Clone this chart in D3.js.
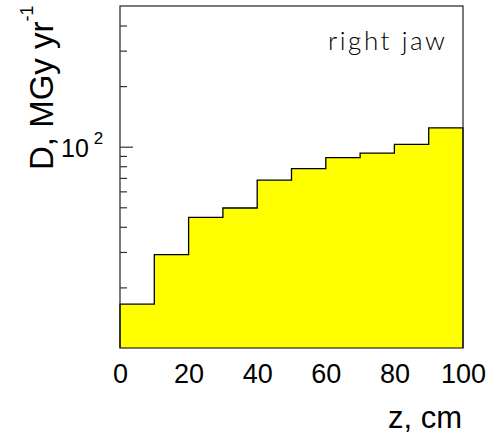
<!DOCTYPE html>
<html>
<head>
<meta charset="utf-8">
<script src="https://cdn.jsdelivr.net/npm/d3@7"></script>
<style>
  body { margin: 0; background: #fff; }
  svg { display: block; font-family: "Liberation Sans", Arial, sans-serif; }
</style>
</head>
<body>
<svg id="chart"></svg>
<script>
// bin edges (z, cm) and dose per bin (MGy/yr)
var binEdges = [0, 10, 20, 30, 40, 50, 60, 70, 80, 90, 100];
var dose = [16.5, 29.1, 44.6, 49.6, 68.3, 77.8, 88.2, 93.0, 102.8, 123.9];
var xTicks = [0, 20, 40, 60, 80, 100];
var yMinorTicks = [20, 30, 40, 50, 60, 70, 80, 90, 200, 300, 400];
var yMajorTicks = [100];

var W = 486, H = 437;
var margin = { top: 6, right: 23, bottom: 89, left: 120 };
var w = W - margin.left - margin.right,
    h = H - margin.top - margin.bottom;

var svg = d3.select('#chart').attr('width', W).attr('height', H);
var g = svg.append('g')
  .attr('transform', 'translate(' + margin.left + ',' + margin.top + ')');

var x = d3.scaleLinear().domain([0, 100]).range([0, w]);
var y = d3.scaleLog().domain([10, 500]).range([h, 0]);

// build the step outline from the bins
var steps = [];
dose.forEach(function (d, i) {
  steps.push([binEdges[i], d]);
  steps.push([binEdges[i + 1], d]);
});

var area = d3.area()
  .x(function (d) { return x(d[0]); })
  .y0(h)
  .y1(function (d) { return y(d[1]); });
g.append('path')
  .datum(steps)
  .attr('d', area)
  .style('fill', '#ffff00');

var line = d3.line()
  .x(function (d) { return x(d[0]); })
  .y(function (d) { return y(d[1]); });
g.append('path')
  .datum([[0, 10]].concat(steps).concat([[100, 10]]))
  .attr('d', line)
  .style('fill', 'none')
  .style('stroke', '#000')
  .style('stroke-width', 1.3);

// frame
g.append('rect')
  .attr('width', w).attr('height', h)
  .style('fill', 'none')
  .style('stroke', '#222')
  .style('stroke-width', 1.2);

// y ticks, pointing into the frame
var yMinor = d3.axisLeft(y).tickValues(yMinorTicks).tickSize(-7).tickFormat('');
var yMajor = d3.axisLeft(y).tickValues(yMajorTicks).tickSize(-13).tickFormat('');
[yMinor, yMajor].forEach(function (ax) {
  var a = g.append('g').call(ax);
  a.select('.domain').remove();
  a.selectAll('line').style('stroke', '#333').style('stroke-width', 1.2);
});

// label for the 10^2 tick
var lab = g.append('text')
  .attr('x', -59).attr('y', y(100) + 10)
  .style('font-size', '25px')
  .style('fill', '#000');
lab.append('tspan').text('10');
lab.append('tspan').attr('dx', 5).attr('dy', -13).style('font-size', '17px').text('2');

// x tick labels
var xAxis = d3.axisBottom(x).tickValues(xTicks).tickSize(0).tickPadding(16);
var xa = g.append('g').attr('transform', 'translate(0,' + h + ')').call(xAxis);
xa.select('.domain').remove();
xa.selectAll('text')
  .style('font-size', '27px')
  .style('font-family', '"Liberation Sans", Arial, sans-serif')
  .style('fill', '#000');

// axis titles
svg.append('text')
  .attr('x', 462).attr('y', 428)
  .attr('text-anchor', 'end')
  .style('font-size', '31px')
  .text('z, cm');

var yt = svg.append('text')
  .attr('transform', 'translate(53,170) rotate(-90)')
  .style('font-size', '33px');
yt.append('tspan').text('D, MGy yr');
yt.append('tspan').attr('dy', -20).style('font-size', '18px').text('-1');

// annotation
svg.append('text')
  .attr('x', 328).attr('y', 50)
  .attr('textLength', 117)
  .attr('lengthAdjust', 'spacing')
  .style('font-family', 'Lato, Roboto, sans-serif')
  .style('font-weight', 300)
  .style('font-size', '26px')
  .text('right jaw');
</script>
</body>
</html>
